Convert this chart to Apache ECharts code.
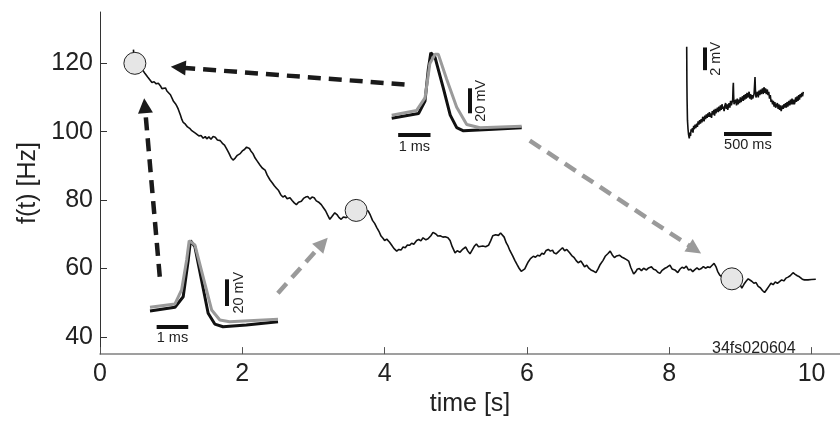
<!DOCTYPE html>
<html>
<head>
<meta charset="utf-8">
<script src="https://cdn.jsdelivr.net/npm/echarts@6/dist/echarts.min.js"></script>
<style>html,body{margin:0;background:#fff}#main{width:840px;height:422px}</style>
</head>
<body>
<div id="main"></div>
<script>
var xTicks = [0, 2, 4, 6, 8, 10];
var yTicks = [40, 60, 80, 100, 120];

// f(t) in Hz against time in s
var rateTrace = [
  [0.47,124],[0.48,121],[0.50,120],[0.55,119],[0.60,118],[0.63,117.1],[0.67,116],[0.70,115.2],[0.73,114.4],[0.76,114.6],
  [0.79,114],[0.82,114.2],[0.85,113.4],[0.87,112.6],[0.89,112.3],[0.92,112.8],[0.94,111.9],[0.96,112.3],[0.99,110.8],[1.03,109],
  [1.06,108.2],[1.08,107.5],[1.10,106.6],[1.13,104.9],[1.15,103.6],[1.17,102.7],[1.20,102.2],[1.23,101.4],[1.26,101],[1.29,100.3],
  [1.31,100.7],[1.34,99.6],[1.36,99.4],[1.39,98.8],[1.42,98.9],[1.45,98.1],[1.48,98.6],[1.50,97.9],[1.53,98.5],[1.56,97.8],
  [1.59,98.6],[1.62,98.4],[1.65,97.6],[1.69,97.4],[1.72,96.6],[1.75,96.1],[1.78,95],[1.81,93.8],[1.84,92.5],[1.87,91.7],
  [1.90,92.3],[1.93,93.1],[1.97,93.6],[2.00,94.4],[2.03,94.8],[2.06,95.5],[2.08,96],[2.10,95.1],[2.12,94.4],[2.15,93.6],
  [2.18,92.3],[2.21,91.4],[2.25,90.2],[2.28,89.4],[2.32,88.8],[2.35,87.3],[2.39,85.9],[2.42,85.1],[2.45,84.2],[2.48,83.5],
  [2.51,82.8],[2.54,81.6],[2.57,80.9],[2.60,81.3],[2.63,80.4],[2.67,80.7],[2.70,79.9],[2.73,79.2],[2.76,78.7],[2.79,79.4],
  [2.83,79.7],[2.86,80.5],[2.89,80.9],[2.92,81.1],[2.95,80.3],[2.98,80.9],[3.01,80.7],[3.04,79.8],[3.08,79.3],[3.11,78.7],
  [3.14,77.8],[3.17,76.9],[3.20,75.6],[3.23,74.4],[3.26,75.2],[3.30,76.3],[3.33,75.8],[3.36,74.9],[3.39,74.4],[3.42,75.1],
  [3.46,74.9],[3.50,75.5],[3.55,76.4],[3.60,77],[3.66,77.3],[3.72,77.1],[3.77,76.8],[3.80,75.6],[3.83,74.1],[3.86,73.2],
  [3.89,72],[3.92,70.9],[3.95,69.5],[3.98,68.8],[4.00,68.2],[4.03,68.6],[4.07,67.7],[4.10,66.8],[4.13,65.9],[4.17,65.1],
  [4.20,65.6],[4.23,65.4],[4.26,66.3],[4.29,66.1],[4.32,66.9],[4.35,66.8],[4.38,67.4],[4.41,67.1],[4.45,68.2],[4.48,68.5],
  [4.51,68.1],[4.54,69],[4.58,68.4],[4.61,68.7],[4.65,69.6],[4.68,70.6],[4.72,70.1],[4.75,69.5],[4.78,69.6],[4.82,69.2],
  [4.85,69.3],[4.89,69],[4.92,68.2],[4.95,66.4],[4.99,64.6],[5.02,65.2],[5.06,64.8],[5.10,65.7],[5.14,66.3],[5.17,65.1],
  [5.20,64.3],[5.23,65.4],[5.26,66.5],[5.29,67.2],[5.32,66.4],[5.34,66.1],[5.38,66.6],[5.42,66.4],[5.46,66.8],[5.49,68.1],
  [5.52,69.6],[5.56,69.9],[5.60,69.7],[5.63,70.4],[5.65,70.8],[5.68,69.2],[5.71,67.5],[5.73,66.8],[5.76,65.3],[5.80,63.7],
  [5.83,62.4],[5.86,61.2],[5.89,60.1],[5.92,59.2],[5.94,58.8],[5.97,59.9],[6.00,61.2],[6.02,62],[6.05,62.9],[6.09,63.6],
  [6.12,63.3],[6.15,63.9],[6.18,63.7],[6.21,64.5],[6.24,64.2],[6.27,65.3],[6.30,65.6],[6.33,65.1],[6.36,65.4],[6.38,64.6],
  [6.41,64.3],[6.44,64.9],[6.47,65.5],[6.50,66.1],[6.53,65.2],[6.56,65.6],[6.60,64.6],[6.63,63.8],[6.66,63.3],[6.69,62.4],
  [6.72,61.7],[6.76,62.2],[6.79,61.2],[6.81,60.5],[6.84,61],[6.87,60.1],[6.90,59.6],[6.94,59.2],[6.97,58.8],[7.00,59.9],
  [7.03,61.2],[7.07,62.4],[7.10,63.6],[7.14,64.4],[7.17,65.1],[7.20,64],[7.23,63.2],[7.26,63.7],[7.30,63.9],[7.33,63.4],
  [7.36,63.1],[7.40,62.6],[7.43,62.2],[7.46,60.3],[7.50,58.4],[7.53,59.1],[7.55,59.8],[7.58,60],[7.61,59.4],[7.64,60.1],
  [7.68,59.6],[7.71,60.2],[7.75,60.5],[7.78,59.8],[7.81,59.6],[7.84,58.9],[7.87,58.6],[7.90,59.5],[7.94,60.1],[7.97,60.4],
  [8.01,61],[8.04,59.9],[8.08,59.6],[8.12,58.8],[8.15,59.8],[8.18,60.4],[8.21,60.1],[8.24,60.7],[8.27,59.6],[8.30,59.8],
  [8.33,59.1],[8.36,59.7],[8.39,60.2],[8.42,59.7],[8.45,60],[8.48,60.6],[8.51,60.1],[8.54,60.5],[8.57,60.3],[8.60,60.9],
  [8.63,61.5],[8.66,60.4],[8.68,59.2],[8.71,58.1],[8.75,57.4],[8.80,57.1],[8.88,56.9],[8.95,56],[9.00,55.2],[9.02,54.3],
  [9.05,55.4],[9.08,56.3],[9.11,57],[9.13,57.2],[9.16,56.3],[9.19,55.7],[9.22,55.9],[9.25,54.8],[9.28,54.4],[9.31,53.6],
  [9.34,53],[9.37,53.9],[9.40,54.8],[9.43,55.7],[9.46,55.3],[9.49,56.1],[9.52,55.7],[9.55,56.2],[9.58,56.7],[9.61,56.4],
  [9.64,57.2],[9.67,57.5],[9.70,57.9],[9.74,58.8],[9.77,58.3],[9.80,57.9],[9.83,57.6],[9.87,56.9],[9.90,56.7],[9.95,56.7],
  [10.00,56.8],[10.06,56.9]
];

var markedPoints = [[0.49, 120], [3.6, 77], [8.88, 57]];

// dashed arrows: start, end (arrow head)
var darkArrows = [
  [[4.28, 113.8], [1.10, 118.8]],
  [[0.84, 57.6], [0.63, 107.6]]
];
var greyArrows = [
  [[2.50, 52.8], [3.13, 67.4]],
  [[6.04, 97.4], [8.36, 65.6]]
];

// spike shapes, time in ms, voltage in mV
var spikeEarlyBlack = [[0,0],[0.79,2.8],[1.05,10.7],[1.21,38.3],[1.28,52.8],[1.42,48.3],[1.63,23.3],[1.84,-1.7],[2.05,-9.8],[2.31,-11.8],[3.05,-10.5],[4.05,-8.0]];
var spikeEarlyGrey = [[0,2.8],[0.79,5.3],[1.0,15.8],[1.16,38.3],[1.24,52.8],[1.42,49.6],[1.68,25.6],[1.95,0.8],[2.21,-6.8],[2.52,-8.0],[4.05,-6.2]];
var spikeLateBlack = [[0,0],[0.83,3.8],[1.03,13.8],[1.13,38.8],[1.21,52.5],[1.34,48.8],[1.60,23.8],[1.81,2.5],[2.01,-7.5],[2.22,-10],[3.15,-8.8],[4.02,-7.5]];
var spikeLateGrey = [[0,2.5],[0.77,6.3],[1.03,16.3],[1.18,43.8],[1.34,51.3],[1.44,51.3],[1.70,31.3],[2.01,8.8],[2.32,-5],[2.73,-7.5],[4.02,-6.3]];

// slow membrane trace, time in ms, voltage in mV
var slowTrace = [
  [0,8.07],[2,5.0],[4,3.4],[8,1.6],[14,0.8],[20,0.3],[27,0],[33,0.5],[40,0.2],[46,0.8],[52,0.6],[60,0.9],[66,0.5],[73,1.1],
  [80,0.8],[88,1.2],[95,0.9],[105,1.3],[112,1.0],[120,1.5],[128,1.2],[136,1.6],[144,1.3],[152,1.7],[160,1.4],[168,1.9],
  [174,1.8],[182,1.5],[190,2.0],[198,1.7],[206,2.1],[214,1.8],[222,2.2],[230,1.9],[238,2.3],[244,1.9],[252,2.2],[260,1.8],
  [268,2.4],[276,2.1],[284,2.5],[292,2.0],[300,2.6],[306,2.2],[314,2.3],[322,2.7],[330,2.3],[338,2.8],[346,2.4],[354,2.9],
  [362,2.5],[370,3.0],[378,2.6],[384,2.8],[392,2.4],[400,2.9],[408,3.1],[416,2.6],[424,3.0],[430,2.5],[436,2.6],[444,3.1],
  [452,2.7],[460,3.3],[468,2.9],[476,3.2],[482,3.4],[486,4.5],[489,4.9],[492,3.8],[496,3.0],[506,2.9],[514,3.4],[522,2.9],
  [530,3.5],[538,3.0],[546,3.4],[554,3.1],[562,3.6],[570,3.2],[577,3.2],[585,3.7],[593,3.3],[600,3.8],[608,3.4],[616,3.9],
  [624,3.5],[632,4.0],[640,3.6],[646,3.7],[654,4.1],[662,3.5],[670,3.9],[678,3.4],[686,3.8],[692,3.5],[698,3.5],[706,3.9],
  [712,4.8],[716,5.4],[720,4.3],[726,3.6],[734,3.7],[742,4.1],[750,3.6],[758,4.2],[766,3.8],[774,4.3],[780,3.9],[786,4.0],
  [794,4.4],[802,3.9],[810,4.5],[818,4.0],[826,4.4],[834,3.9],[845,4.3],[852,3.8],[860,4.1],[868,3.5],[876,3.8],[884,3.2],
  [891,3.4],[900,3.0],[908,3.3],[916,2.8],[924,3.2],[932,2.7],[943,2.8],[950,3.1],[958,2.6],[966,3.0],[974,2.5],[982,2.9],
  [990,2.4],[996,2.5],[1004,2.9],[1012,2.6],[1020,3.0],[1028,2.7],[1036,3.1],[1044,2.7],[1052,3.2],[1060,2.8],[1065,2.9],
  [1072,3.3],[1080,2.9],[1088,3.4],[1096,3.0],[1104,3.5],[1112,3.0],[1120,3.4],[1128,3.0],[1135,3.2],[1142,3.6],[1150,3.2],
  [1158,3.7],[1166,3.3],[1174,3.8],[1182,3.4],[1190,3.9],[1198,3.6],[1206,4.0],[1214,3.7],[1222,4.1]
];

var font = 'Liberation Sans, Arial, Helvetica, sans-serif';
var myChart = echarts.init(document.getElementById('main'));

function arrowLines(list, color) {
  return list.map(function (a) {
    return [{ coord: a[0], lineStyle: { color: color } }, { coord: a[1] }];
  });
}

function scaleBar(from, to, text) {
  return [{
    coord: from,
    label: { show: true, formatter: text, position: 'insideMiddleBottom', distance: 4, color: '#222', fontSize: 14.5, fontFamily: font }
  }, { coord: to }];
}

function scaleBars(bars) {
  return {
    silent: true, symbol: 'none', animation: false,
    lineStyle: { type: 'solid', color: '#111', width: 4 },
    data: bars
  };
}

function hiddenAxis(idx, min, max) {
  return { type: 'value', gridIndex: idx, min: min, max: max, show: false };
}

option = {
  backgroundColor: '#fff',
  animation: false,
  grid: [
    { left: 100, top: 12, right: 0, bottom: 63 },
    { left: 150, top: 231, width: 128, height: 100 },
    { left: 391.7, top: 43.3, width: 130, height: 93.75 },
    { left: 686.7, top: 41.8, width: 116.6, height: 102.2 }
  ],
  xAxis: [{
    type: 'value', min: 0, max: 10.4,
    name: 'time [s]', nameLocation: 'middle', nameGap: 34,
    nameTextStyle: { fontSize: 25, color: '#222', fontFamily: font },
    axisLine: { lineStyle: { color: '#808080', width: 1.5 } },
    axisTick: { inside: true, length: 7, customValues: xTicks, lineStyle: { color: '#555' } },
    axisLabel: { customValues: xTicks, fontSize: 25, color: '#222', margin: 8, fontFamily: font },
    splitLine: { show: false }
  },
    hiddenAxis(1, 0, 4.05), hiddenAxis(2, 0, 4.02), hiddenAxis(3, 0, 1222)
  ],
  yAxis: [{
    type: 'value', min: 35, max: 135,
    name: 'f(t) [Hz]', nameLocation: 'middle', nameGap: 54, nameRotate: 90,
    nameTextStyle: { fontSize: 25, color: '#222', fontFamily: font },
    axisLine: { show: true, lineStyle: { color: '#333', width: 1 } },
    axisTick: { show: true, inside: true, length: 7, customValues: yTicks, lineStyle: { color: '#333' } },
    axisLabel: { customValues: yTicks, fontSize: 25, color: '#222', margin: 7, fontFamily: font },
    splitLine: { show: false }
  },
    hiddenAxis(1, -15, 60), hiddenAxis(2, -15, 60), hiddenAxis(3, -0.5, 8.5)
  ],
  graphic: [{
    type: 'text', left: 712, top: 341,
    style: { text: '34fs020604', fontSize: 16, fill: '#222', fontFamily: font }
  }],
  series: [{
    type: 'line', data: rateTrace, showSymbol: false, z: 2,
    lineStyle: { color: '#111', width: 1.6 }
  }, {
    type: 'scatter', data: markedPoints, symbolSize: 22, z: 4,
    itemStyle: { color: '#e6e6e6', borderColor: '#222', borderWidth: 1, opacity: 1 },
    markLine: {
      silent: true, animation: false,
      symbol: ['none', 'triangle'], symbolSize: 15,
      lineStyle: { type: [13, 8], width: 4.5 },
      label: { show: false },
      data: arrowLines(darkArrows, '#1a1a1a').concat(arrowLines(greyArrows, '#9a9a9a'))
    }
  }, {
    type: 'line', xAxisIndex: 1, yAxisIndex: 1, data: spikeEarlyBlack, showSymbol: false, clip: false,
    lineStyle: { color: '#111', width: 3 },
    markLine: scaleBars([
      scaleBar([0.21, -11.8], [1.21, -11.8], '1 ms'),
      scaleBar([2.44, 3.75], [2.44, 23.75], '20 mV')
    ])
  }, {
    type: 'line', xAxisIndex: 1, yAxisIndex: 1, data: spikeEarlyGrey, showSymbol: false, clip: false,
    lineStyle: { color: '#9a9a9a', width: 3 }
  }, {
    type: 'line', xAxisIndex: 2, yAxisIndex: 2, data: spikeLateBlack, showSymbol: false, clip: false,
    lineStyle: { color: '#111', width: 3 },
    markLine: scaleBars([
      scaleBar([0.2, -13.4], [1.2, -13.4], '1 ms'),
      scaleBar([2.42, 4], [2.42, 24], '20 mV')
    ])
  }, {
    type: 'line', xAxisIndex: 2, yAxisIndex: 2, data: spikeLateGrey, showSymbol: false, clip: false,
    lineStyle: { color: '#9a9a9a', width: 3 }
  }, {
    type: 'line', xAxisIndex: 3, yAxisIndex: 3, data: slowTrace, showSymbol: false, clip: false,
    lineStyle: { color: '#111', width: 1.6 },
    markLine: scaleBars([
      scaleBar([391, 0.44], [891, 0.44], '500 ms'),
      scaleBar([184, 6], [184, 8], '2 mV')
    ])
  }]
};

myChart.setOption(option);
</script>
</body>
</html>
